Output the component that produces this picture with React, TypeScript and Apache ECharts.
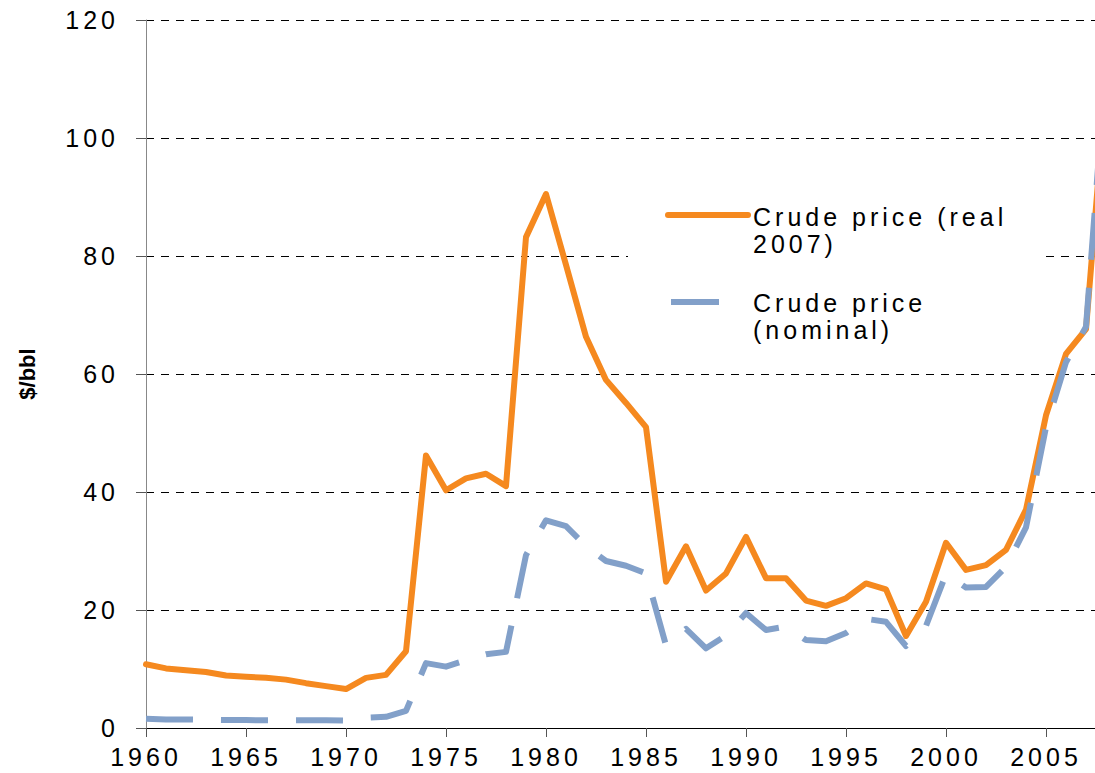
import React, { useEffect, useRef } from "react";
import * as echarts from "echarts";

const years = [
  1960, 1961, 1962, 1963, 1964, 1965, 1966, 1967, 1968, 1969,
  1970, 1971, 1972, 1973, 1974, 1975, 1976, 1977, 1978, 1979,
  1980, 1981, 1982, 1983, 1984, 1985, 1986, 1987, 1988, 1989,
  1990, 1991, 1992, 1993, 1994, 1995, 1996, 1997, 1998, 1999,
  2000, 2001, 2002, 2003, 2004, 2005, 2006, 2007, 2008,
];

const realPrice = [
  10.8, 10.1, 9.8, 9.5, 8.9, 8.7, 8.5, 8.2, 7.6, 7.1,
  6.6, 8.5, 9.0, 13.0, 46.2, 40.3, 42.3, 43.1, 41.0, 83.2,
  90.5, 78.5, 66.3, 59.0, 55.1, 51.0, 24.8, 30.8, 23.3, 26.2,
  32.4, 25.4, 25.4, 21.6, 20.7, 22.0, 24.5, 23.5, 15.6, 21.4,
  31.4, 26.8, 27.6, 30.2, 37.0, 53.0, 63.4, 67.6, 109,
];

const nominalPrice = [
  1.55, 1.45, 1.45, 1.4, 1.35, 1.35, 1.3, 1.3, 1.3, 1.3,
  1.25, 1.75, 1.9, 2.9, 11.0, 10.4, 11.5, 12.5, 12.9, 29.3,
  35.2, 34.2, 30.8, 28.3, 27.5, 26.2, 14.0, 16.8, 13.5, 15.7,
  19.5, 16.6, 17.2, 14.9, 14.7, 16.1, 18.5, 18.0, 13.9, 17.3,
  26.1, 23.8, 23.9, 27.3, 34.0, 51.0, 62.0, 68.0, 113,
];

const seriesNames = ["Crude price (real 2007)", "Crude price (nominal)"];
const legendLabels = ["Crude price (real\n2007)", "Crude price\n(nominal)"];
const yAxisTitle = "$/bbl";

const ORANGE = "#F5891F";
const BLUE = "#82A0C9";
const FONT = "Liberation Sans, Arial, sans-serif";

export default function App() {
  const ref = useRef<HTMLDivElement>(null);

  useEffect(() => {
    if (!ref.current) return;
    const chart = echarts.init(ref.current, undefined, { renderer: "svg" });
    const option: any = {
      animation: false,
      grid: { left: 146, right: 0, top: 20, bottom: 45 },
      xAxis: {
        type: "value",
        min: 1960,
        max: 2007.45,
        interval: 5,
        axisLine: { show: true, onZero: false, lineStyle: { color: "#000", width: 1 } },
        axisTick: { show: true, length: 9, lineStyle: { color: "#555" } },
        axisLabel: {
          margin: 16,
          color: "#000",
          fontFamily: FONT,
          fontSize: 25,
          showMaxLabel: false,
          formatter: (v: number) => (Math.abs(v % 5) < 1e-6 ? String(v) : ""),
        },
        splitLine: { show: false },
      },
      yAxis: {
        type: "value",
        min: 0,
        max: 120,
        interval: 20,
        name: yAxisTitle,
        nameLocation: "middle",
        nameGap: 108,
        nameRotate: 90,
        nameTextStyle: {
          fontFamily: FONT,
          fontWeight: "bold",
          fontSize: 22,
          color: "#000",
        },
        axisLine: { show: true, lineStyle: { color: "#888", width: 1 } },
        axisTick: { show: true, length: 10, lineStyle: { color: "#555" } },
        axisLabel: { margin: 27, color: "#000", fontFamily: FONT, fontSize: 25 },
        splitLine: { show: true, lineStyle: { color: "#000", width: 1, type: [8, 7] } },
      },
      series: [
        {
          name: seriesNames[0],
          type: "line",
          data: years.map((y, i) => [y, realPrice[i]]),
          symbol: "none",
          showSymbol: false,
          clip: true,
          z: 2,
          lineStyle: { color: ORANGE, width: 6, cap: "round", join: "round" },
        },
        {
          name: seriesNames[1],
          type: "line",
          data: years.map((y, i) => [y, nominalPrice[i]]),
          symbol: "none",
          showSymbol: false,
          clip: true,
          z: 3,
          lineStyle: { color: BLUE, width: 6, type: [47, 28], cap: "butt", join: "round" },
        },
      ],
      graphic: [
        {
          type: "rect",
          z: 10,
          shape: { x: 628, y: 190, width: 412, height: 170 },
          style: { fill: "#fff" },
        },
        {
          type: "line",
          z: 11,
          shape: { x1: 668, y1: 215, x2: 748, y2: 215 },
          style: { stroke: ORANGE, lineWidth: 6, lineCap: "round" },
        },
        {
          type: "line",
          z: 11,
          shape: { x1: 671, y1: 302, x2: 719, y2: 302 },
          style: { stroke: BLUE, lineWidth: 6, lineCap: "butt" },
        },
        {
          type: "text",
          z: 11,
          x: 753,
          y: 203,
          style: {
            text: legendLabels[0],
            fontFamily: FONT,
            fontSize: 25,
            lineHeight: 27,
            fill: "#000",
            align: "left",
            verticalAlign: "top",
          },
        },
        {
          type: "text",
          z: 11,
          x: 753,
          y: 289,
          style: {
            text: legendLabels[1],
            fontFamily: FONT,
            fontSize: 25,
            lineHeight: 27,
            fill: "#000",
            align: "left",
            verticalAlign: "top",
          },
        },
      ],
    };
    chart.setOption(option);
    const applySpacing = () => {
      ref.current?.querySelectorAll("text").forEach((t) => {
        if ((t.textContent || "").trim() !== yAxisTitle) {
          (t as SVGTextElement).style.letterSpacing = "4px";
        }
      });
    };
    applySpacing();
    chart.on("finished", applySpacing);
    return () => {
      chart.dispose();
    };
  }, []);

  return (
    <div
      ref={ref}
      style={{ position: "fixed", left: 0, top: 0, width: 1095, height: 773, background: "#fff" }}
    />
  );
}
